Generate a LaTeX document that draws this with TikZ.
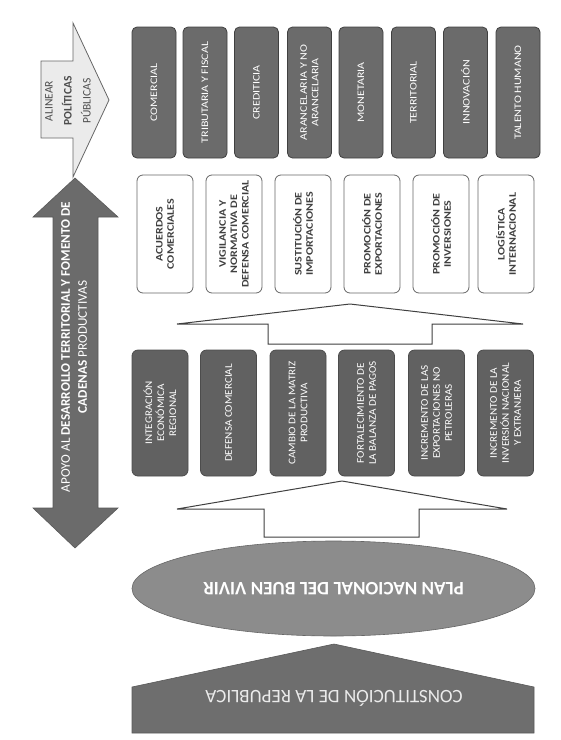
\documentclass[tikz,border=0pt]{standalone}
\usepackage{fontspec}
\setmainfont{Carlito}
\newfontfamily\widefont[FakeStretch=1.2]{Carlito}
\newfontfamily\midwidefont[FakeStretch=1.09]{Carlito}
\usetikzlibrary{shapes.geometric}
\begin{document}
\begin{tikzpicture}[x=1pt,y=-1pt,
  topbox/.style={draw=black!75,fill=black!58,rounded corners=5pt,line width=0.8pt,rotate=90,
    minimum width=131pt,minimum height=44pt,inner sep=1pt,text=white,font=\widefont\fontsize{10}{11.5}\selectfont,align=center},
  whitebox/.style={draw=black!60,fill=white,rounded corners=6pt,line width=0.8pt,rotate=90,
    minimum width=118pt,minimum height=56pt,inner sep=1pt,text=black!75,font=\widefont\bfseries\fontsize{10}{11.3}\selectfont,align=center},
  darkbox/.style={draw=black!70,fill=black!62,rounded corners=6pt,line width=0.8pt,rotate=90,
    minimum width=126pt,minimum height=56pt,inner sep=1pt,text=white,font=\midwidefont\fontsize{10.2}{12}\selectfont,align=center},
  hollow/.style={draw=black!75,fill=white,line width=1pt,line join=miter},
]
\useasboundingbox (0,0) rectangle (561,740);

% Alinear arrow
\draw[draw=black!60,fill=black!8,line width=0.8pt] (41,61) -- (73,61) -- (73,23) -- (109,100) -- (73,177) -- (73,138) -- (41,138) -- cycle;
\node[rotate=90,align=center,text=black!70,font=\fontsize{11.5}{19}\selectfont] (alinear) at (68,101) {ALINEAR\\\textbf{POLÍTICAS}\\PÚBLICAS};

% Top row
\foreach \x/\t [count=\i] in {154/COMERCIAL,205/TRIBUTARIA Y FISCAL,256.5/CREDITICIA,309.5/{ARANCELARIA Y NO\\ARANCELARIA},361/MONETARIA,413.5/TERRITORIAL,465.5/INNOVACIÓN,518/TALENTO HUMANO}
  \node[topbox] (top\i) at (\x,92.5) {\t};

% White row
\foreach \x/\t [count=\i] in {165/{ACUERDOS\\COMERCIALES},234/{VIGILANCIA Y\\NORMATIVA DE\\DEFENSA COMERCIAL},303/{SUSTITUCIÓN DE\\IMPORTACIONES},372/{PROMOCIÓN DE\\EXPORTACIONES},441/{PROMOCIÓN DE\\INVERSIONES},506/{LOGÍSTICA\\INTERNACIONAL}}
  \node[whitebox] (mid\i) at (\x,234) {\t};

% Dark row
\foreach \x/\t [count=\i] in {160/{INTEGRACIÓN\\ECONÓMICA\\REGIONAL},228.5/DEFENSA COMERCIAL,298/{CAMBIO DE LA MATRIZ\\PRODUCTIVA},366.5/{FORTALECIMIENTO DE\\LA BALANZA DE PAGOS},436.5/{INCREMENTO DE LAS\\EXPORTACIONES NO\\PETROLERAS},505.5/{INCREMENTO DE LA\\INVERSIÓN NACIONAL\\Y EXTRANJERA}}
  \node[darkbox] (obj\i) at (\x,413) {\t};

% Hollow arrows
\draw[hollow] (350,304) -- (523,324) -- (432,324) -- (432,344) -- (268,344) -- (268,324) -- (177,324) -- cycle;
\draw[hollow] (342,481) -- (507,509) -- (419,509) -- (419,537) -- (264,537) -- (264,509) -- (177,509) -- cycle;

% Left double arrow
\draw[draw=black!65,fill=black!58,line width=0.6pt] (75,178) -- (118,217) -- (98,217) -- (98,508) -- (118,508) -- (75,548) -- (33,508) -- (53,508) -- (53,217) -- (33,217) -- cycle;
\node[rotate=90,align=center,text=white,font=\fontsize{13.2}{17}\selectfont] (apoyo) at (74,347)
  {APOYO AL \textbf{DESARROLLO TERRITORIAL Y FOMENTO DE}\\\textbf{CADENAS} PRODUCTIVAS};

% Ellipse
\node[draw=black!60,fill=black!45,ellipse,minimum width=403pt,minimum height=95pt,inner sep=0pt,line width=0.6pt] (plan) at (333.5,588.5) {};
\node[rotate=180,text=white,font=\bfseries\fontsize{19}{20}\selectfont] (plantxt) at (333.5,588.5) {PLAN NACIONAL DEL BUEN VIVIR};

% Pentagon
\draw[draw=black!65,fill=black!57,line width=0.6pt] (132,687) -- (334,644) -- (534,687) -- (534,733) -- (132,733) -- cycle;
\node[rotate=180,text=white!92!black,font=\fontsize{19}{21}\selectfont] (const) at (334,698) {CONSTITUCIÓN DE LA REPUBLICA};
\end{tikzpicture}
\end{document}
